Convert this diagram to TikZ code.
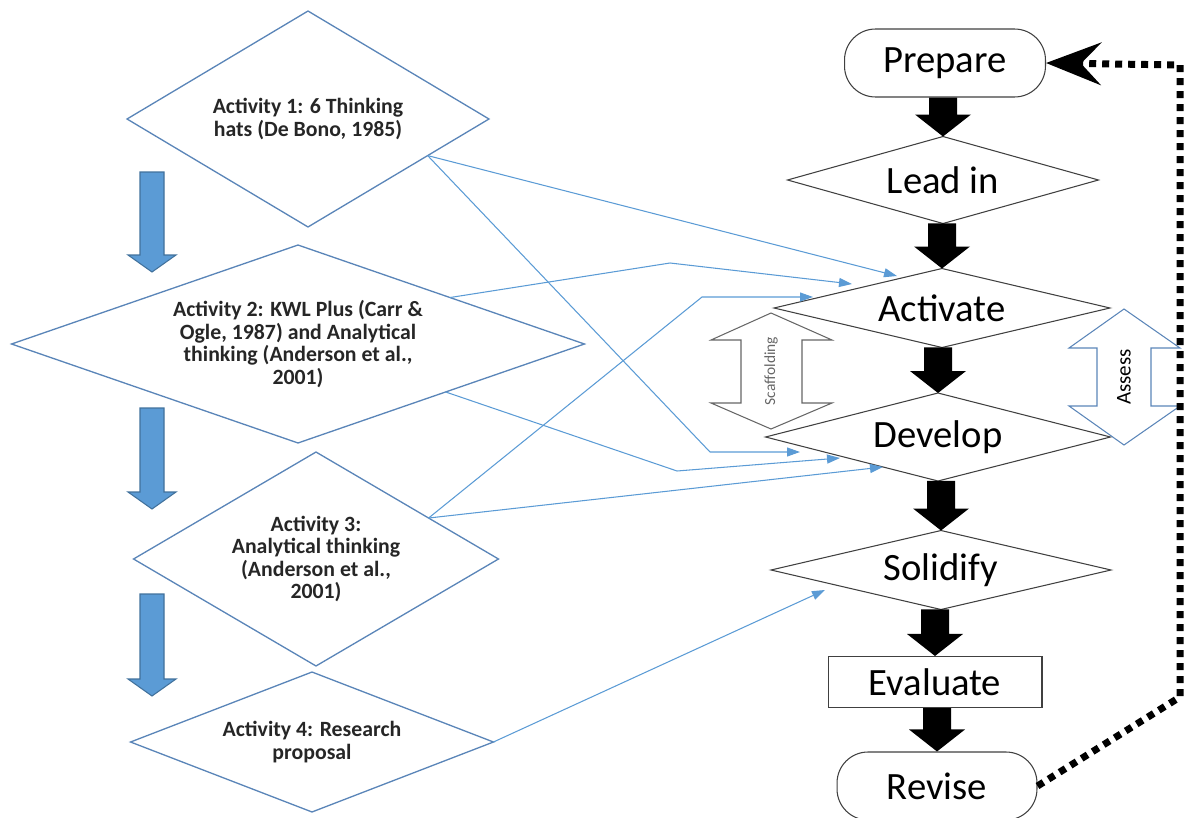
\documentclass[tikz,border=0pt]{standalone}
\usepackage{fontspec}
\setmainfont{Carlito}
\usetikzlibrary{shapes.geometric,arrows.meta,calc}
\definecolor{actblue}{HTML}{5B9BD5}
\definecolor{actline}{HTML}{5A85B8}
\definecolor{blkline}{HTML}{41719C}
\tikzset{
  act/.style={diamond, draw=actline, line width=0.75pt, inner sep=0pt, outer sep=0pt, align=center, text=black!85, font=\bfseries\fontsize{12.4}{12.8}\selectfont},
  stage/.style={diamond, draw=black!75, line width=0.6pt, inner sep=0pt, outer sep=0pt, fill=white, font=\fontsize{22}{24}\selectfont},
  endbox/.style={rectangle, rounded corners=0.62cm, draw=black!75, line width=0.6pt, fill=white, font=\fontsize{22}{24}\selectfont},
  con/.style={actblue, line width=0.6pt, -{Triangle[length=0.26cm,width=0.18cm]}},
  blueblk/.style={fill=actblue, draw=blkline, line width=0.6pt},
  fb/.style={line width=0.14cm, dash pattern=on 0.14cm off 0.12cm, -{Stealth[length=1.1cm,width=0.85cm,inset=0.4cm]}}
}
\newcommand{\blkarrow}[2]{%
  \fill ($(#2.north |- #1.south)+(-14,0)$) -- ($(#2.north |- #1.south)+(14,0)$) -- ($(#2.north)+(14,-22)$) -- ($(#2.north)+(28,-22)$) -- (#2.north) -- ($(#2.north)+(-28,-22)$) -- ($(#2.north)+(-14,-22)$) -- cycle;}
\begin{document}
\begin{tikzpicture}[x=0.02cm,y=-0.02cm]
\useasboundingbox (0,0) rectangle (1184,818);
% activities
\node[act, aspect=1.68, minimum width=7.24cm, minimum height=4.32cm] (act1) at (308,119) {Activity 1: 6 Thinking\\hats (De Bono, 1985)};
\node[act, aspect=2.9, minimum width=11.46cm, minimum height=3.96cm] (act2) at (298,344) {Activity 2: KWL Plus (Carr \&\\Ogle, 1987) and Analytical\\thinking (Anderson et al.,\\2001)};
\node[act, aspect=1.7, minimum width=7.3cm, minimum height=4.28cm] (act3) at (316,559) {Activity 3:\\Analytical thinking\\(Anderson et al.,\\2001)};
\node[act, aspect=2.6, minimum width=7.26cm, minimum height=2.8cm] (act4) at (312,742) {Activity 4: Research\\proposal};
\foreach \t/\b in {172/272,408/509,594/696}
  \filldraw[blueblk] (140,\t) -- (164,\t) -- (164,\b-17) -- (176,\b-17) -- (152,\b) -- (128,\b-17) -- (140,\b-17) -- cycle;
% lesson stages
\node[endbox, minimum width=4.02cm, minimum height=1.36cm] (prep) at (945,63) {Prepare};
\node[stage, aspect=3.6, minimum width=6.22cm, minimum height=1.74cm] (lead) at (943,180) {Lead in};
\node[stage, aspect=4.2, minimum width=6.72cm, minimum height=1.58cm] (actv) at (942,308) {Activate};
\node[stage, aspect=3.9, minimum width=6.9cm, minimum height=1.76cm] (dev) at (938,437) {Develop};
\node[stage, aspect=4.3, minimum width=6.8cm, minimum height=1.58cm] (sol) at (941,570) {Solidify};
\node[rectangle, draw=black!75, line width=0.6pt, minimum width=4.28cm, minimum height=1.02cm, font=\fontsize{22}{24}\selectfont] (eval) at (935,682) {Evaluate};
\node[endbox, minimum width=4cm, minimum height=1.36cm] (rev) at (937,786) {Revise};
\blkarrow{prep}{lead}
\blkarrow{lead}{actv}
\blkarrow{actv}{dev}
\blkarrow{dev}{sol}
\blkarrow{sol}{eval}
\blkarrow{eval}{rev}
\draw[black!60, line width=0.6pt] (771,313) -- (832,340) -- (802,340) -- (802,403) -- (832,403) -- (771,429) -- (711,403) -- (741,403) -- (741,340) -- (711,340) -- cycle;
\node[rotate=90, text=black!60, font=\fontsize{8.8}{10}\selectfont] (scaf) at (771,371) {Scaffolding};
\draw[actline, line width=0.6pt] (1124,309) -- (1180,348) -- (1151,348) -- (1151,406) -- (1180,406) -- (1124,445) -- (1069,406) -- (1097,406) -- (1097,348) -- (1069,348) -- cycle;
\node[rotate=90, font=\fontsize{12}{13}\selectfont] (assess) at (1124,377) {Assess};
% links
\draw[con] (act1.-17) -- ($(actv)+(-45,-32)$);
\draw[con] (act1.-17) -- (710,452) -- ($(dev)+(-138,15)$);
\draw[con] (act2.17) -- (670,263) -- ($(actv)+(-90,-24)$);
\draw[con] (act2.-18) -- (677,471) -- ($(dev)+(-98,21)$);
\draw[con] (act3.20) -- (702,297) -- ($(actv)+(-129,-11)$);
\draw[con] (act3.20) -- ($(dev)+(-55,30)$);
\draw[con] (act4.east) -- ($(sol)+(-116,20)$);
\coordinate (fbA) at (1180,697);
\coordinate (fbB) at (1180,65);
\draw[fb] (rev.east) -- (fbA) -- (fbB) -- (prep.east);
\end{tikzpicture}
\end{document}
